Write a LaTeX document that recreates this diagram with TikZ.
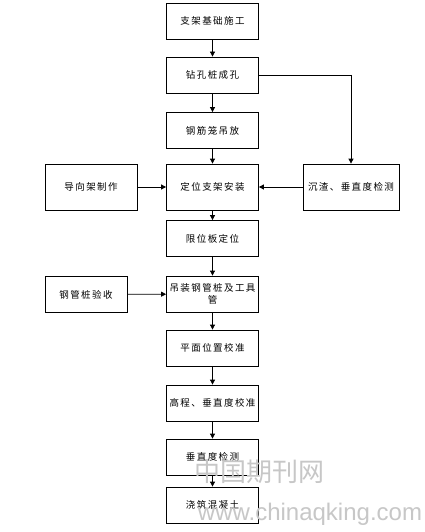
\documentclass[tikz,border=0pt]{standalone}
\usepackage{fontspec}
\newfontfamily\cjk[LetterSpace=15]{Noto Sans CJK SC}
\newfontfamily\cjkwm{Noto Sans CJK SC}
\usetikzlibrary{arrows.meta}
\begin{document}
\begin{tikzpicture}[x=1pt,y=-1pt,
  box/.style={draw,line width=0.8pt,minimum width=92pt,minimum height=36pt,inner sep=1pt,font=\cjk\fontsize{9.5}{12}\selectfont,align=center,text width=90pt},
  arr/.style={-{Triangle[length=5pt,width=5pt]},line width=0.8pt},
  wm/.style={text=black!22}]
\useasboundingbox (0,0) rectangle (425,532);
\fill[white] (0,0) rectangle (425,532);
\node[box] (b1) at (212.5,21) {支架基础施工};
\node[box] (b2) at (212.5,75) {钻孔桩成孔};
\node[box] (b3) at (212.5,130.5) {钢筋笼吊放};
\node[box,minimum height=46pt] (b4) at (212.5,187) {定位支架安装};
\node[box] (b5) at (212.5,238.5) {限位板定位};
\node[box] (b6) at (212.5,294) {吊装钢管桩及工具\\管};
\node[box] (b7) at (212.5,348) {平面位置校准};
\node[box] (b8) at (212.5,403) {高程、垂直度校准};
\node[box] (b9) at (212.5,457) {垂直度检测};
\node[box] (b10) at (212.5,505) {浇筑混凝土};
\node[box,minimum height=46pt] (l1) at (91,187) {导向架制作};
\node[box,minimum width=82pt,text width=80pt] (l2) at (86,294.5) {钢管桩验收};
\node[box,minimum height=46pt,minimum width=94pt,text width=94pt] (r1) at (351,187) {沉渣、垂直度检测};
\coordinate (c1) at (351,75);
\draw[arr] (b1) -- (b2);
\draw[arr] (b2) -- (b3);
\draw[arr] (b3) -- (b4);
\draw[arr] (b4) -- (b5);
\draw[arr] (b5) -- (b6);
\draw[arr] (b6) -- (b7);
\draw[arr] (b7) -- (b8);
\draw[arr] (b8) -- (b9);
\draw[arr] (b9) -- (b10);
\draw[arr] (l1) -- (b4);
\draw[arr] (r1) -- (b4);
\draw[arr] (l2) -- (b6);
\draw[line width=0.8pt] (b2.east) -- (c1);
\draw[arr] (c1) -- (r1.north);
\node[wm,font=\cjkwm\fontsize{26}{28}\selectfont] (wm1) at (259,472) {中国期刊网};
\node[wm,font=\fontspec{Liberation Sans}\fontsize{24}{26}\selectfont] (wm2) at (310,514) {www.chinaqking.com};
\end{tikzpicture}
\end{document}
